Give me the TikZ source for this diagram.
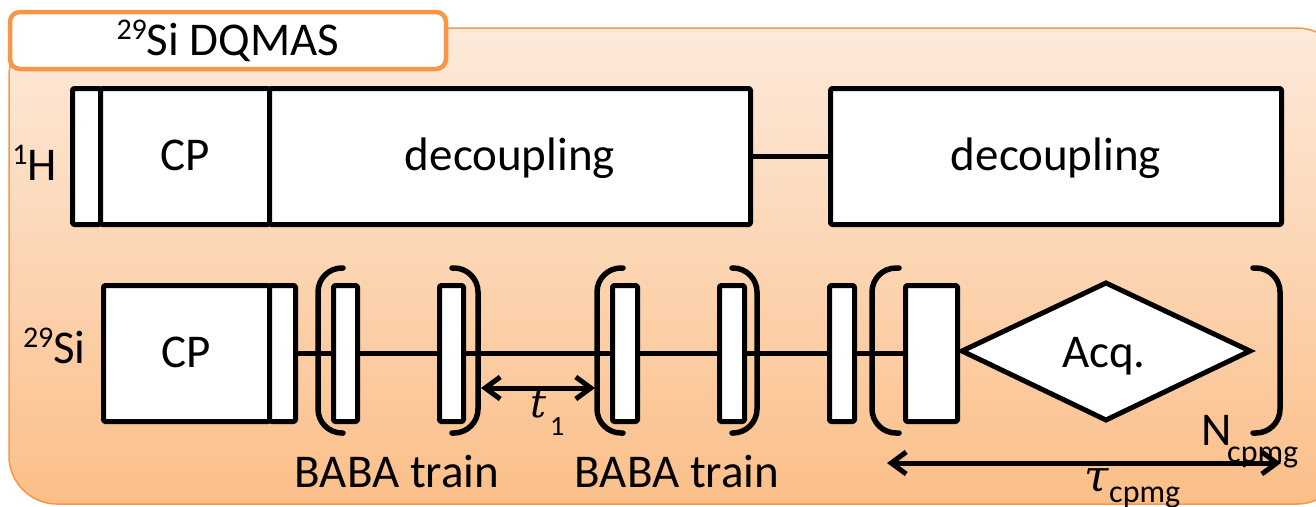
\documentclass[tikz,border=0pt]{standalone}
\usepackage{fontspec}
\setmainfont{Carlito}
\newfontfamily\symbolserif{DejaVu Serif}
\usetikzlibrary{arrows.meta}

\definecolor{frameorange}{HTML}{F79646}
\definecolor{paletop}{HTML}{FDEADB}
\definecolor{palebottom}{HTML}{FBBF89}

% raised mass number in front of an element symbol
\newcommand\massnum[1]{\raisebox{16pt}{\fontsize{30}{30}\selectfont #1}}

\begin{document}
\begin{tikzpicture}[x=1pt,y=-1pt,
  lbl/.style={font=\fontsize{47}{52}\selectfont, inner sep=0pt, anchor=base},
  sublbl/.style={font=\fontsize{32}{36}\selectfont, inner sep=0pt, anchor=base west},
  pulse/.style={draw=black, fill=white, line width=5pt, line join=round,
    rounded corners=1.5pt, inner sep=0pt, anchor=north west},
  bracketline/.style={line width=5.5pt, rounded corners=24pt, line cap=round},
  timeline/.style={line width=5pt},
  span/.style={line width=5pt,
    {Straight Barb[length=15pt,width=22pt]}-{Straight Barb[length=15pt,width=22pt]}},
]
\useasboundingbox (0,0) rectangle (1316,506);

% shaded panel
\begin{scope}
  \clip (0,0) rectangle (1316,506);
  \draw[frameorange, line width=1.5pt, rounded corners=48pt,
        top color=paletop, bottom color=palebottom]
    (9,28) rectangle (1345,504);
\end{scope}

% title tab
\draw[frameorange, line width=4.5pt, fill=white, rounded corners=10pt]
  (10,12) rectangle (446,69);
\node[lbl] (title) at (228,55) {\massnum{29}Si DQMAS};

% ---------- 1H channel ----------
\node[lbl, anchor=base east] (hlabel) at (57,180) {\massnum{1}H};
\node[pulse, minimum width=28pt, minimum height=136pt] (hflip) at (70,86) {};
\node[pulse, minimum width=169pt, minimum height=136pt] (hcp) at (98,86) {};
\node[pulse, minimum width=481pt, minimum height=136pt] (hdecA) at (267,86) {};
\node[pulse, minimum width=451pt, minimum height=136pt] (hdecB) at (828,86) {};
\draw[timeline] (hdecA.east) -- (hdecB.west);
\node[lbl] at (hcp.center |- 0,170) {CP};
\node[lbl] at (hdecA.center |- 0,170) {decoupling};
\node[lbl] at (hdecB.center |- 0,170) {decoupling};

% ---------- 29Si channel ----------
\node[lbl, anchor=base east] (silabel) at (86,363) {\massnum{29}Si};
\node[pulse, minimum width=166pt, minimum height=136pt] (sicp) at (101,283) {};
\node[pulse, minimum width=26pt, minimum height=136pt] (siflip) at (267,283) {};
\node[pulse, minimum width=52pt, minimum height=136pt] (refocus) at (903,283) {};

% acquisition window
\coordinate (acqW) at (962,351);
\coordinate (acqN) at (1106,283);
\coordinate (acqE) at (1250,351);
\coordinate (acqS) at (1106,420);

\draw[timeline] (siflip.east) -- (refocus.west);

\node[pulse, minimum width=24pt, minimum height=136pt] (trA1) at (331,283) {};
\node[pulse, minimum width=24pt, minimum height=136pt] (trA2) at (437,283) {};
\node[pulse, minimum width=25pt, minimum height=136pt] (trB1) at (610,283) {};
\node[pulse, minimum width=25pt, minimum height=136pt] (trB2) at (717,283) {};
\node[pulse, minimum width=25pt, minimum height=136pt] (zfilter) at (827,283) {};

\draw[line width=5pt, line join=miter, fill=white]
  (acqW) -- (acqN) -- (acqE) -- (acqS) -- cycle;
\node[lbl] (acq) at (1104,367) {Acq.};

\node[lbl] at (sicp.center |- 0,367) {CP};

% brackets
\draw[bracketline] (343,268) -- (318,268) -- (318,433) -- (343,433);
\draw[bracketline] (452,268) -- (478,268) -- (478,433) -- (452,433);
\draw[bracketline] (623,268) -- (597,268) -- (597,433) -- (623,433);
\draw[bracketline] (732,268) -- (757,268) -- (757,433) -- (732,433);
\draw[bracketline] (899,268) -- (872,268) -- (872,433) -- (899,433);
\draw[bracketline] (1253,268) -- (1280,268) -- (1280,433) -- (1253,433);

\node[lbl] at (397,487) {BABA train};
\node[lbl] at (677,487) {BABA train};

% evolution period t1
\coordinate (tA) at (481,388);
\coordinate (tB) at (595,388);
\draw[span] (tA) -- (tB);
\node[inner sep=0pt, anchor=base west, font=\symbolserif\itshape\fontsize{40}{42}\selectfont] (tlabel) at (530,417) {t};
\node[inner sep=0pt, anchor=base west, font=\fontsize{28}{30}\selectfont] at (550,435) {1};

% CPMG loop count and echo spacing
\node[lbl, anchor=base west] (nlabel) at (1201,445) {N};
\node[sublbl] at (1227,462) {cpmg};
\coordinate (cA) at (887,463);
\coordinate (cB) at (1281,463);
\draw[span] (cA) -- (cB);
\node[inner sep=0pt, anchor=base west, font=\symbolserif\itshape\fontsize{44}{46}\selectfont] (taulabel) at (1084,491) {τ};
\node[sublbl] at (1109,502) {cpmg};
\end{tikzpicture}
\end{document}
